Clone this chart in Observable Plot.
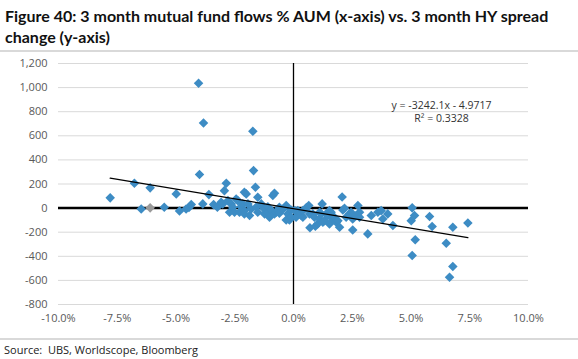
<!DOCTYPE html>
<html><head><meta charset="utf-8">
<script src="https://cdn.jsdelivr.net/npm/d3@7"></script>
<script src="https://cdn.jsdelivr.net/npm/@observablehq/plot@0.6"></script>
<style>
body{margin:0;background:#fff;width:578px;height:359px;overflow:hidden;font-family:"Open Sans",sans-serif}
#title{font-family:Lato,sans-serif;font-weight:bold;font-size:16px;line-height:21px;padding:5px 0 0 5px;height:45px;box-sizing:content-box;color:#111;white-space:nowrap}
.rule{height:2px;background:#d9d9d9}
#chart svg{display:block}
#source{font-size:11px;color:#222;padding:2px 0 0 4px;white-space:pre}
</style></head><body>
<div id="title">Figure 40: 3 month mutual fund flows % AUM (x-axis) vs. 3 month HY spread<br>change (y-axis)</div>
<div class="rule"></div>
<div id="chart"></div>
<div class="rule"></div>
<div id="source">Source:  UBS, Worldscope, Bloomberg</div>
<script>
// 3 month mutual fund flows, % AUM
const flows = [
-7.80,-6.77,-6.48,-6.10,-5.50,-4.99,-4.85,-4.57,-4.45,-4.35,
-4.04,-4.00,-3.83,-3.86,-3.60,-3.40,-3.24,-3.08,-3.01,-2.94,
-2.86,-2.79,-2.72,-2.65,-2.58,-2.51,-2.44,-2.37,-2.30,-2.23,
-2.16,-2.09,-2.01,-2.09,-2.09,-1.94,-1.87,-1.80,-1.73,-1.70,
-1.62,-1.52,-1.59,-1.52,-1.37,-1.30,-1.23,-1.23,-1.09,-1.09,
-1.02,-0.95,-0.88,-0.81,-0.81,-0.74,-0.67,-0.60,-0.60,-0.45,
-0.31,-0.31,-0.24,-0.20,-0.17,-0.10,-0.10,0.05,0.11,0.18,
0.26,0.33,0.40,0.40,0.55,0.65,0.68,0.70,0.82,0.89,
0.93,1.03,1.11,1.11,1.18,1.22,1.25,1.32,1.39,1.46,
1.53,1.53,1.60,1.67,1.74,1.82,1.89,1.96,2.07,2.10,
2.17,2.24,2.38,2.45,2.52,2.52,2.67,2.74,2.81,2.81,
3.16,3.31,3.59,3.73,3.80,4.01,4.23,5.05,5.15,5.01,
5.05,5.18,5.79,5.90,6.50,6.78,6.78,6.64,7.42
];
// 3 month HY spread change (bp)
const spreads = [
85,206,-7,168,7,118,-24,-7,5,29,
1036,278,707,35,112,29,7,48,35,145,
206,62,-35,35,7,-35,76,62,-35,12,
35,131,118,-21,-48,35,-62,-7,637,311,
173,90,7,-35,35,7,-7,-48,12,-35,
-76,-15,104,123,-48,-35,-20,7,-43,-10,
21,-98,-48,-90,-98,-15,-76,-20,-76,-21,
-35,-62,-76,-21,5,21,-48,-163,-48,-76,
-150,-131,-35,-90,-48,35,-118,-104,-48,-62,
-21,-131,-35,-90,-76,-118,-104,-159,92,-15,
-2,-76,-48,-35,-90,-181,-62,21,-35,-76,
-214,-62,-35,-21,-90,-48,-145,2,-62,-104,
-394,-262,-70,-152,-292,-159,-485,-574,-124
];
// latest observation (grey marker)
const latestFlows = [-6.10];
const latestSpreads = [2];
// trend line from the chart label
const slope = -3242.1;
const intercept = -4.9717;
const rSquared = 0.3328;
const xTicks = [-10, -7.5, -5, -2.5, 0, 2.5, 5, 7.5, 10];
const yTicks = [-800, -600, -400, -200, 0, 200, 400, 600, 800, 1000, 1200];

const points = flows.map((f, i) => ({flow: f, spread: spreads[i]}));
const latest = latestFlows.map((f, i) => ({flow: f, spread: latestSpreads[i]}));
const trend = d3.extent(flows).map(f => ({flow: f, spread: slope * f / 100 + intercept}));
const eqLines = [
  "y = " + slope.toFixed(1) + "x - " + Math.abs(intercept).toFixed(4),
  "R\u00b2 = " + rSquared.toFixed(4)
];

const chart = Plot.plot({
  width: 578,
  height: 286,
  marginTop: 11,
  marginBottom: 34,
  marginLeft: 58,
  marginRight: 50,
  style: {fontFamily: "Open Sans, sans-serif", fontSize: "11px", background: "#fff"},
  x: {domain: [-10, 10]},
  y: {domain: [-800, 1200]},
  marks: [
    Plot.gridY(yTicks, {stroke: "#d9d9d9", strokeOpacity: 1, strokeWidth: 1}),
    Plot.ruleY([0], {stroke: "#000", strokeWidth: 2.5}),
    Plot.ruleX([0], {stroke: "#000", strokeWidth: 1.3}),
    Plot.axisX(xTicks, {tickSize: 0, tickPadding: 10, tickFormat: d => d.toFixed(1) + "%", fill: "#595959", label: null}),
    Plot.axisY(yTicks, {tickSize: 0, tickPadding: 11, tickFormat: d => d.toLocaleString("en-US"), fill: "#595959", label: null}),
    Plot.dot(points, {x: "flow", y: "spread", symbol: "diamond2", r: 4.3, fill: "#3d8cc4"}),
    Plot.dot(latest, {x: "flow", y: "spread", symbol: "diamond2", r: 4.3, fill: "#9a9a9a"}),
    Plot.line(trend, {x: "flow", y: "spread", stroke: "#000", strokeWidth: 1.3}),
    Plot.text(eqLines, {x: () => 6.3, y: (d, i) => 852 - i * 112, text: d => d, fill: "#333", fontSize: 10.5})
  ]
});
document.getElementById("chart").append(chart);
</script>
</body></html>
